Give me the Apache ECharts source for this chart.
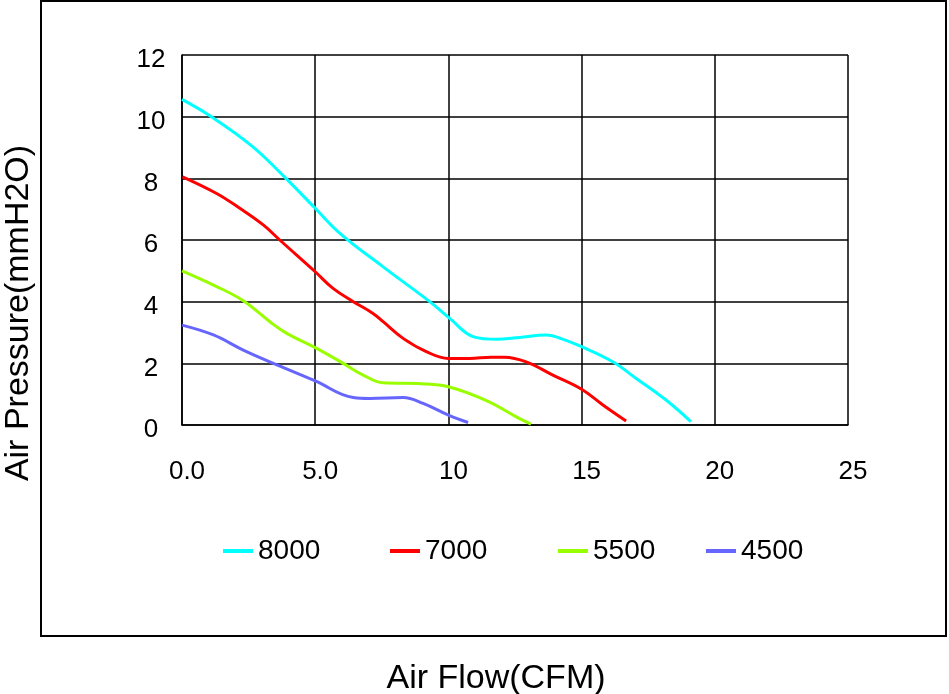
<!DOCTYPE html>
<html>
<head>
<meta charset="utf-8">
<script src="https://cdn.jsdelivr.net/npm/echarts@6/dist/echarts.min.js"></script>
<style>
html,body{margin:0;padding:0;background:#fff;}
#c{width:949px;height:694px;}
</style>
</head>
<body>
<div id="c"></div>
<script>
var seriesNames = ['8000', '7000', '5500', '4500'];
var seriesColors = ['#00ffff', '#ff0000', '#99ff00', '#6666ff'];
var xTickLabels = {0: '0.0', 5: '5.0', 10: '10', 15: '15', 20: '20', 25: '25'};

var s8000 = [[0,10.56],[1.1,10.0],[2.65,9.03],[3.9,8.0],[5.0,7.03],[5.95,6.2],[7.55,5.13],[9.3,4.0],[10.05,3.46],[10.95,2.86],[11.8,2.78],[12.67,2.84],[13.67,2.92],[14.05,2.86],[15.0,2.54],[16.17,2.05],[17.05,1.51],[18.17,0.81],[19.1,0.11]];
var s7000 = [[0.02,8.05],[1.3,7.51],[2.17,7.03],[3.05,6.49],[3.67,6.0],[5.0,4.97],[5.67,4.43],[6.43,4.0],[7.17,3.62],[7.55,3.35],[8.3,2.81],[9.17,2.38],[10.0,2.16],[10.8,2.16],[11.6,2.2],[12.1,2.2],[12.92,2.05],[13.92,1.62],[15.0,1.16],[15.8,0.65],[16.67,0.13]];
var s5500 = [[0,5.0],[1.3,4.49],[2.3,4.03],[3.3,3.35],[3.93,2.97],[5.0,2.51],[6.05,2.0],[6.8,1.62],[7.55,1.37],[9.0,1.34],[10.0,1.24],[11.43,0.79],[12.6,0.24],[13.1,0.03]];
var s4500 = [[0,3.24],[1.18,2.92],[2.3,2.43],[3.43,2.0],[5.0,1.43],[6.43,0.89],[7.05,0.86],[8.3,0.89],[9.05,0.70],[10.0,0.32],[10.74,0.08]];
var allData = [s8000, s7000, s5500, s4500];

var FONT = 'Liberation Sans, Arial, sans-serif';
var legendLefts = [223, 390, 558, 706];

var chart = echarts.init(document.getElementById('c'), null, {renderer: 'canvas'});
var option = {
  backgroundColor: '#fff',
  animation: false,
  textStyle: {fontFamily: FONT},
  graphic: [
    {type: 'rect', shape: {x: 41, y: 1, width: 905, height: 635}, style: {fill: 'none', stroke: '#000', lineWidth: 2}, z: -1},
    {type: 'text', x: 19, y: 313, rotation: Math.PI / 2, style: {text: 'Air Pressure(mmH2O)', font: '34px ' + FONT, fill: '#000', align: 'center', verticalAlign: 'middle'}},
    {type: 'text', x: 496, y: 679, style: {text: 'Air Flow(CFM)', font: '34px ' + FONT, fill: '#000', align: 'center', verticalAlign: 'middle'}}
  ],
  legend: seriesNames.map(function (n, i) {
    return {
      data: [n], left: legendLefts[i], top: 537, padding: 0, icon: 'rect', itemWidth: 30, itemHeight: 4, itemGap: 0,
      textStyle: {fontSize: 28, color: '#000', fontFamily: FONT},
      selectedMode: false
    };
  }),
  grid: {left: 182, top: 55, width: 666, height: 370, containLabel: false, show: false},
  xAxis: {
    type: 'value', min: 0, max: 25, interval: 5,
    axisLine: {show: true, lineStyle: {color: '#000', width: 1.5}},
    axisTick: {show: false},
    splitLine: {show: true, lineStyle: {color: '#000', width: 1.5}},
    axisLabel: {
      margin: 34, fontSize: 26, color: '#000', fontFamily: FONT, padding: [0, 0, 0, 10],
      formatter: function (v) { return xTickLabels[v] !== undefined ? xTickLabels[v] : String(v); }
    }
  },
  yAxis: {
    type: 'value', min: 0, max: 12, interval: 2,
    axisLine: {show: true, lineStyle: {color: '#000', width: 1.5}},
    axisTick: {show: false},
    splitLine: {show: true, lineStyle: {color: '#000', width: 1.5}},
    axisLabel: {
      margin: 31, align: 'center', color: '#000', fontFamily: FONT,
      formatter: function (v) { return '{a|' + v + '}'; },
      rich: {a: {fontSize: 26, color: '#000', fontFamily: FONT, padding: [10, 0, 0, 0]}}
    }
  },
  series: seriesNames.map(function (n, i) {
    return {
      name: n, type: 'line', data: allData[i], smooth: 0.4, showSymbol: false, symbol: 'none',
      lineStyle: {color: seriesColors[i], width: 3}, itemStyle: {color: seriesColors[i]}, z: 3
    };
  })
};
chart.setOption(option);
</script>
</body>
</html>
